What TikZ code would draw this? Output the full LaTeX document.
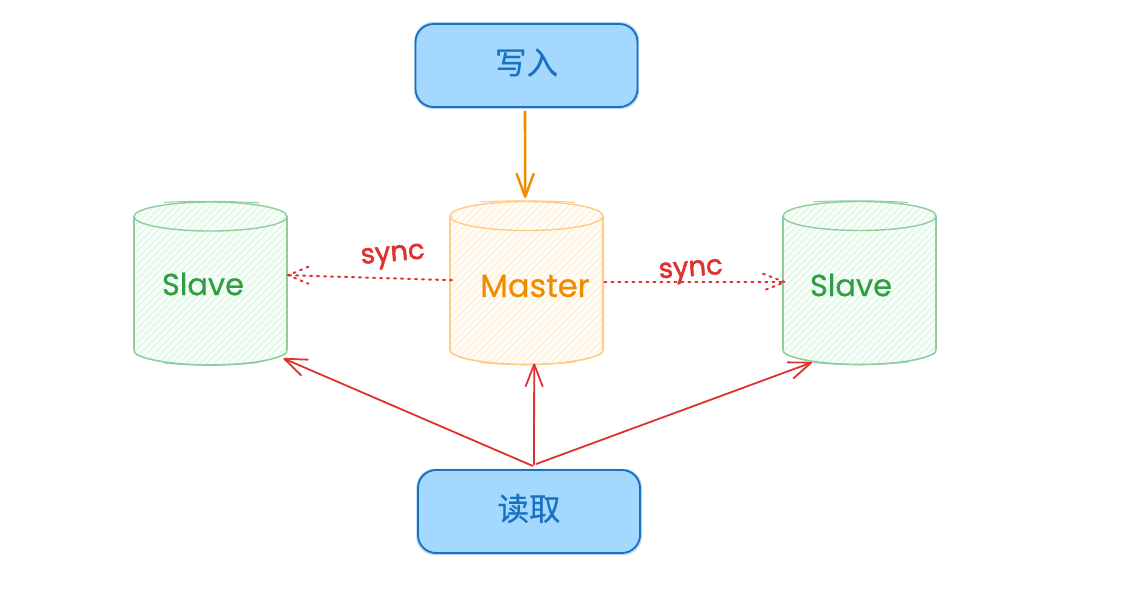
\documentclass[tikz,border=0pt]{standalone}
\usepackage{fontspec}
\setmainfont{Poppins}
\newfontfamily\hwfont[FakeBold=0.6]{Poppins}
\newfontfamily\syncfont[FakeBold=1.8]{Poppins}
\newfontfamily\cjk[FakeBold=0.4]{Noto Sans CJK SC}
\usetikzlibrary{arrows.meta,calc}
\definecolor{boxfill}{HTML}{A5D8FF}
\definecolor{boxline}{HTML}{1971C2}
\definecolor{gline}{HTML}{8FCD9D}
\definecolor{gtext}{HTML}{2F9E44}
\definecolor{gbase}{HTML}{F8FEF9}
\definecolor{ghatch}{HTML}{E3F8E6}
\definecolor{oline}{HTML}{FFCB85}
\definecolor{otext}{HTML}{F08C00}
\definecolor{obase}{HTML}{FFFEFB}
\definecolor{ohatch}{HTML}{FFF2DA}
\definecolor{redc}{HTML}{E03131}
\newcommand{\liftlabel}[1]{\raisebox{0pt}[\height][\dimexpr\depth+6pt\relax]{#1}}
\tikzset{
  actionbox/.style={draw=boxline,fill=boxfill,line width=1.9pt,rounded corners=18pt,
    minimum width=222pt,minimum height=83pt,inner sep=0pt,text=boxline,font=\cjk\fontsize{31.5}{32}\selectfont},
  boxsketch/.style={draw=boxline,draw opacity=.3,line width=1pt,rounded corners=18pt},
  dbanchor/.style={minimum width=153pt,minimum height=163pt,inner sep=0pt,anchor=north west},
  hwtext/.style={font=\hwfont\fontsize{30.5}{31}\selectfont,inner sep=0pt},
  synctext/.style={inner sep=0pt,text=redc,font=\syncfont\fontsize{27.5}{28}\selectfont},
  readarrow/.style={draw=redc,line width=1.8pt,-{Straight Barb[length=22pt,width=17pt,line width=1.8pt,round]}},
  writearrow/.style={draw=otext,line width=2.6pt,-{Straight Barb[length=23pt,width=17pt,line width=2.4pt,round]}},
  syncline/.style={draw=redc,line width=2pt,dash pattern=on 2pt off 5pt,line cap=round},
}
% name, x, y, line colour, base fill, hatch colour
\newcommand{\dbcyl}[6]{%
  \begin{scope}[shift={(#2,#3)}]
    \node[dbanchor] (#1) at (0,0) {};
    \path[fill=#5] (0,15) arc[start angle=180,end angle=360,x radius=76.5,y radius=14.5]
      -- (153,149) .. controls (125,168) and (28,168) .. (0,149) -- cycle;
    \begin{scope}
      \clip (0,15) arc[start angle=180,end angle=360,x radius=76.5,y radius=14.5]
        -- (153,149) .. controls (125,168) and (28,168) .. (0,149) -- cycle;
      \foreach \k in {-170,-163,...,170}{
        \draw[#6,line width=1.5pt] (\k-10,170) -- (\k+170,-10);
      }
    \end{scope}
    \draw[#4,line width=1.6pt,line join=round]
      (0,15) -- (0,148) .. controls (0,151) and (1,152) .. (3,153)
      .. controls (30,167) and (123,167) .. (150,153)
      .. controls (152,152) and (153,151) .. (153,148) -- (153,15);
    \draw[#4,line width=1.4pt] (76.5,15) ellipse[x radius=76.5,y radius=14.5];
    \draw[#4,line width=1pt] (30,0.8) .. controls (60,-.6) and (95,-.6) .. (125,1.4);
    \draw[#4,line width=1pt] (30,161.5) .. controls (60,164.5) and (95,164) .. (125,161);
  \end{scope}}
\begin{document}
\begin{tikzpicture}[x=1pt,y=-1pt]
\useasboundingbox[fill=white] (0,0) rectangle (1127,590);

\node[actionbox] (write) at (526.5,65.5) {\liftlabel{写入}};
\node[actionbox] (read) at (529,511.5) {\liftlabel{读取}};
\draw[boxsketch] ($(write.south west)+(.4,.6)$) rectangle ($(write.north east)+(.2,-.4)$);
\draw[boxsketch] ($(read.south west)+(-.3,.6)$) rectangle ($(read.north east)+(.4,.3)$);

\dbcyl{slaveL}{134}{201.5}{gline}{gbase}{ghatch}
\dbcyl{master}{450}{201}{oline}{obase}{ohatch}
\dbcyl{slaveR}{783}{201}{gline}{gbase}{ghatch}

\node[hwtext,text=gtext] (lblL) at (203,284) {Slave};
\node[hwtext,text=otext,font=\hwfont\fontsize{32}{32}\selectfont] (lblM) at (535,286) {Master};
\node[hwtext,text=gtext] (lblR) at (851,285) {Slave};
\node[synctext,rotate=5] (syncL) at (393,257) {sync};
\node[synctext,rotate=4] (syncR) at (691,272) {sync};

% write arrow
\coordinate (wS) at ($(write.south)+(-1.5,3)$);
\coordinate (wE) at ($(master.north)+(-1.5,-3)$);
\draw[writearrow] (wS) -- (wE);

% read arrows
\coordinate (rA) at ($(read.north)+(4,-3)$);
\coordinate (rB) at ($(read.north)+(5,-4)$);
\coordinate (rC) at ($(read.north)+(7,-5)$);
\coordinate (tL) at ($(slaveL.south east)+(-4,-6.5)$);
\coordinate (tM) at ($(master.south)+(7.5,-1)$);
\coordinate (tR) at ($(slaveR.south west)+(29,-2)$);
\draw[readarrow] (rA) -- (tL);
\draw[readarrow] (rB) -- (tM);
\draw[readarrow] (rC) -- (tR);

% sync arrows (dotted, with dotted barbs)
\coordinate (sLs) at ($(master.west)+(2,-2.5)$);
\coordinate (sLe) at ($(slaveL.east)+(1,-8)$);
\coordinate (sLa) at ($(sLe)+(20,-8.5)$);
\coordinate (sLb) at ($(sLe)+(20,8.5)$);
\draw[syncline] (sLs) -- (sLe);
\draw[syncline] (sLa) -- (sLe) -- (sLb);

\coordinate (sRs) at ($(master.east)+(1,-.5)$);
\coordinate (sRe) at ($(slaveR.west)+(2,-.5)$);
\coordinate (sRa) at ($(sRe)+(-22,-8.5)$);
\coordinate (sRb) at ($(sRe)+(-22,8.5)$);
\draw[syncline] (sRs) -- (sRe);
\draw[syncline] (sRa) -- (sRe) -- (sRb);
\end{tikzpicture}
\end{document}
